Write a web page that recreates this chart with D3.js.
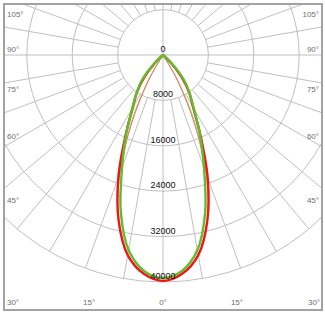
<!DOCTYPE html>
<html>
<head>
<script src="https://d3js.org/d3.v7.min.js"></script>
<style>
  body { margin: 0; background: #fff; }
  .grid line, .grid circle { stroke: #c0c0c0; stroke-width: 1; fill: none; }
  .frame { fill: none; stroke: #a2a2a2; stroke-width: 2; }
  .val { font: 9px "Liberation Sans", Arial, sans-serif; fill: #111; text-anchor: middle; }
  .deg { font: 8px "Liberation Sans", Arial, sans-serif; fill: #6e6e6e; dominant-baseline: central; }
  .curve { fill: none; stroke-linejoin: round; }
</style>
</head>
<body>
<svg width="325" height="314"></svg>
<script>
// gamma angles (deg from nadir) and intensities (cd)
const gammaAngles = [0, 5, 10, 15, 20, 25, 30, 35, 40, 45, 50];
const redC0 = [39800, 38700, 35800, 30200, 23000, 15600, 10600, 8000, 5200, 2000, 0];
const greenC90 = [39300, 38200, 34900, 28700, 21100, 15400, 10800, 8100, 5750, 2500, 0];
const thinAngles = [0, 5, 10, 15, 20, 25, 30, 35];
const redThin = [39800, 38700, 35800, 30200, 22400, 12500, 4500, 0];
const greenThin = [39300, 38200, 34900, 28700, 21000, 13500, 5500, 0];

const ringValues = [0, 8000, 16000, 24000, 32000, 40000];
const sideLabels = [105, 90, 75, 60, 45];
const bottomLabels = [-30, -15, 0, 15, 30];

const svg = d3.select("svg");
const frame = {x0: 4, y0: 4, x1: 322, y1: 310};
const cx = 163, cy = 55;
const rad = Math.PI / 180;

const r = d3.scaleLinear().domain([0, 40000]).range([0, 227]);

svg.append("clipPath").attr("id", "clip")
  .append("rect")
    .attr("x", frame.x0).attr("y", frame.y0)
    .attr("width", frame.x1 - frame.x0).attr("height", frame.y1 - frame.y0);

const g = svg.append("g").attr("clip-path", "url(#clip)");
const grid = g.append("g").attr("class", "grid")
  .attr("transform", `translate(${cx},${cy})`);

// rings
grid.selectAll("circle").data(ringValues.slice(1))
  .enter().append("circle")
    .attr("r", d => r(d));

// spokes every 10 deg, both sides
const spokes = [];
d3.range(0, 181, 10).forEach(a => {
  spokes.push(a);
  if (a > 0 && a < 180) spokes.push(-a);
});
const startR = d => (Math.abs(d) % 90 === 0) ? 0 : r(8000);
grid.selectAll("line").data(spokes)
  .enter().append("line")
    .attr("x1", d => startR(d) * Math.sin(d * rad))
    .attr("y1", d => startR(d) * Math.cos(d * rad))
    .attr("x2", d => r(40000) * Math.sin(d * rad))
    .attr("y2", d => r(40000) * Math.cos(d * rad));

// curves
function pts(angles, vals) {
  const left = angles.map((a, i) => [Math.PI + a * rad, r(vals[i])]).reverse();
  const right = angles.slice(1).map((a, i) => [Math.PI - a * rad, r(vals[i + 1])]);
  return left.concat(right);
}
const radial = d3.lineRadial()
  .angle(d => d[0])
  .radius(d => d[1])
  .curve(d3.curveCatmullRom.alpha(0.5));

const curves = g.append("g").attr("transform", `translate(${cx},${cy})`);
curves.append("path").attr("class", "curve")
  .attr("d", radial(pts(thinAngles, greenThin)))
  .attr("stroke", "#92cf62").attr("stroke-width", 1);
curves.append("path").attr("class", "curve")
  .attr("d", radial(pts(thinAngles, redThin)))
  .attr("stroke", "#f07070").attr("stroke-width", 1);
curves.append("path").attr("class", "curve")
  .attr("d", radial(pts(gammaAngles, redC0)))
  .attr("stroke", "#f01414").attr("stroke-width", 2.4);
curves.append("path").attr("class", "curve")
  .attr("d", radial(pts(gammaAngles, greenC90)))
  .attr("stroke", "#62bd2c").attr("stroke-width", 2.4);

// value labels
svg.append("g").selectAll("text").data(ringValues)
  .enter().append("text")
    .attr("class", "val")
    .attr("x", cx)
    .attr("y", d => cy + r(d) - 3)
    .text(d => d);

// angle labels on sides
const side = svg.append("g");
sideLabels.forEach(a => {
  const y = Math.max(14, cy + 151 / Math.tan(a * rad) - 6);
  side.append("text").attr("class", "deg").attr("x", 7).attr("y", y).text(a + "°");
  side.append("text").attr("class", "deg").attr("x", 319).attr("y", y)
    .attr("text-anchor", "end").text(a + "°");
});
// angle labels on bottom
side.selectAll(".bot").data(bottomLabels)
  .enter().append("text")
    .attr("class", "deg bot")
    .attr("x", d => Math.max(13, Math.min(314, cx + 276 * Math.tan(d * rad))))
    .attr("y", 302)
    .attr("text-anchor", "middle")
    .text(d => Math.abs(d) + "°");

svg.append("rect").attr("class", "frame")
  .attr("x", frame.x0).attr("y", frame.y0)
  .attr("width", frame.x1 - frame.x0).attr("height", frame.y1 - frame.y0);
</script>
</body>
</html>
